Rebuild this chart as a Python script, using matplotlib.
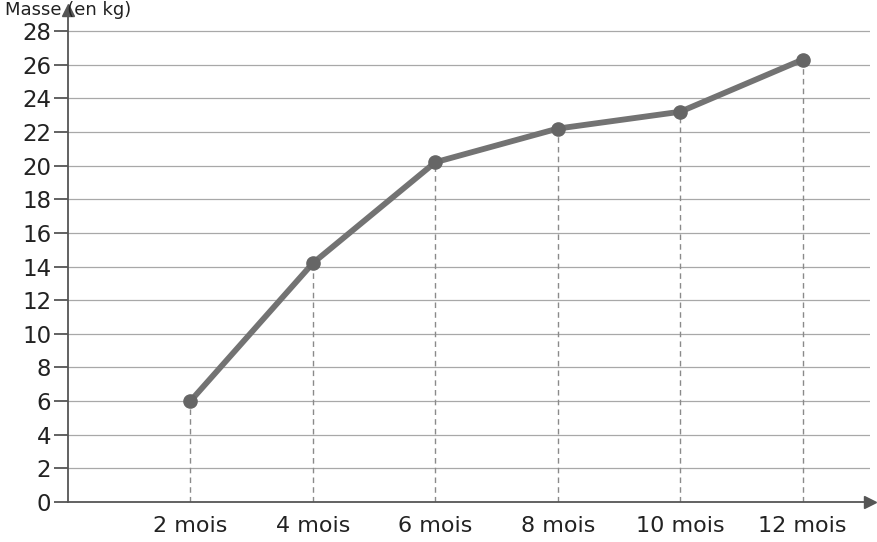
import matplotlib.pyplot as plt

# growth chart: weight by age
mois = [2, 4, 6, 8, 10, 12]
labels = ['2 mois', '4 mois', '6 mois', '8 mois', '10 mois', '12 mois']
masse = [6.0, 14.2, 20.2, 22.2, 23.2, 26.3]
yticks = list(range(0, 29, 2))

fig = plt.figure(figsize=(8.78, 5.42), dpi=100)
ax = fig.add_axes([68/878, 40/542, (870-68)/878, (532-40)/542])

ax.set_xlim(0, 13.1)
ax.set_ylim(0, 29.25)

# horizontal grid
for v in yticks[1:]:
    ax.axhline(v, color='#a8a8a8', lw=0.9, zorder=1)

# dashed drop lines
for x, y in zip(mois, masse):
    ax.plot([x, x], [0, y], color='#8a8a8a', lw=1.0, ls=(0, (4, 3)), zorder=2)

ax.plot(mois, masse, color='#737373', lw=4.2, zorder=3, solid_capstyle='round')
ax.plot(mois, masse, 'o', color='#666666', ms=9.5, zorder=4)

for s in ['top', 'right']:
    ax.spines[s].set_visible(False)
ax.spines['left'].set_color('#555555')
ax.spines['bottom'].set_color('#555555')
ax.spines['left'].set_linewidth(1.3)
ax.spines['bottom'].set_linewidth(1.3)

# arrow heads
ax.plot(1, 0, '>', color='#555555', ms=8, transform=ax.get_yaxis_transform(), clip_on=False)
ax.plot(0, 1, '^', color='#555555', ms=8, transform=ax.get_xaxis_transform(), clip_on=False)

ax.set_yticks(yticks)
ax.set_yticklabels([str(t) for t in yticks], fontsize=16.5, color='#222222')
ax.tick_params(axis='y', length=10, width=1.3, color='#555555', pad=2)
ax.set_xticks(mois)
ax.set_xticklabels(labels, fontsize=16, color='#222222')
ax.tick_params(axis='x', length=0, pad=10)

fig.text(0.006, 0.998, 'Masse (en kg)', fontsize=13, color='#222222', va='top', ha='left')

fig.savefig('out.png', dpi=100)
